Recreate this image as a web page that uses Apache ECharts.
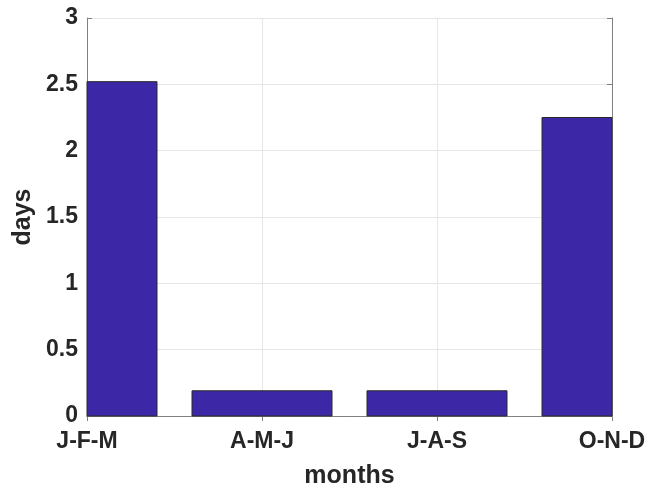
<!DOCTYPE html>
<html><head><meta charset="utf-8">
<script src="https://cdn.jsdelivr.net/npm/echarts@6/dist/echarts.min.js"></script>
<style>html,body{margin:0;padding:0;background:#fff}#c{width:657px;height:488px}</style>
</head><body><div id="c"></div>
<script>
const categories = ['J-F-M', 'A-M-J', 'J-A-S', 'O-N-D'];
const values = [2.52, 0.19, 0.19, 2.25];
const yTicks = [0, 0.5, 1, 1.5, 2, 2.5, 3];

const chart = echarts.init(document.getElementById('c'));
const font = 'Liberation Sans, Arial, sans-serif';
const axisCol = '#808080';
const textCol = '#262626';
const labelStyle = {color: textCol, fontWeight: 'bold', fontSize: 23, fontFamily: font};
const nameStyle = {color: textCol, fontWeight: 'bold', fontSize: 25, fontFamily: font};
const barHalf = 0.4;

function renderBar(params, api) {
  const x = api.value(0), y = api.value(1);
  const p0 = api.coord([x - barHalf, 0]);
  const p1 = api.coord([x + barHalf, y]);
  const cs = params.coordSys;
  const rect = echarts.graphic.clipRectByRect(
    {x: p0[0], y: p1[1], width: p1[0] - p0[0], height: p0[1] - p1[1]},
    {x: cs.x, y: cs.y, width: cs.width, height: cs.height});
  if (!rect) return null;
  return {type: 'rect', shape: rect,
    style: {fill: '#3c28a6', stroke: '#2a2a2a', lineWidth: 1}};
}

chart.setOption({
  animation: false,
  grid: {left: 87, right: 45, top: 18, bottom: 72, outerBoundsMode: 'none', containLabel: false},
  xAxis: [{
    type: 'value', min: 1, max: categories.length, interval: 1,
    name: 'months', nameLocation: 'middle', nameGap: 48, nameTextStyle: nameStyle,
    axisLine: {show: true, lineStyle: {color: axisCol}},
    axisTick: {show: true, inside: true, length: 5, lineStyle: {color: axisCol}},
    axisLabel: Object.assign({margin: 14, formatter: v => categories[Math.round(v) - 1] || ''}, labelStyle),
    splitLine: {show: true, lineStyle: {color: '#e6e6e6'}}
  }, {
    type: 'value', position: 'top', min: 1, max: categories.length, interval: 1,
    axisLine: {show: true, lineStyle: {color: axisCol}},
    axisTick: {show: true, inside: true, length: 5, lineStyle: {color: axisCol}},
    axisLabel: {show: false}, splitLine: {show: false}
  }],
  yAxis: [{
    type: 'value', min: yTicks[0], max: yTicks[yTicks.length - 1], interval: 0.5,
    name: 'days', nameLocation: 'middle', nameGap: 49, nameTextStyle: nameStyle,
    axisLine: {show: true, lineStyle: {color: axisCol}},
    axisTick: {show: true, inside: true, length: 5, lineStyle: {color: axisCol}},
    axisLabel: Object.assign({margin: 9}, labelStyle),
    splitLine: {show: true, lineStyle: {color: '#e6e6e6'}}
  }, {
    type: 'value', position: 'right', min: yTicks[0], max: yTicks[yTicks.length - 1], interval: 0.5,
    axisLine: {show: true, lineStyle: {color: axisCol}},
    axisTick: {show: true, inside: true, length: 5, lineStyle: {color: axisCol}},
    axisLabel: {show: false}, splitLine: {show: false}
  }],
  series: [{
    type: 'custom', xAxisIndex: 0, yAxisIndex: 0,
    renderItem: renderBar,
    encode: {x: 0, y: 1},
    data: values.map((v, i) => [i + 1, v])
  }]
});
</script></body></html>
